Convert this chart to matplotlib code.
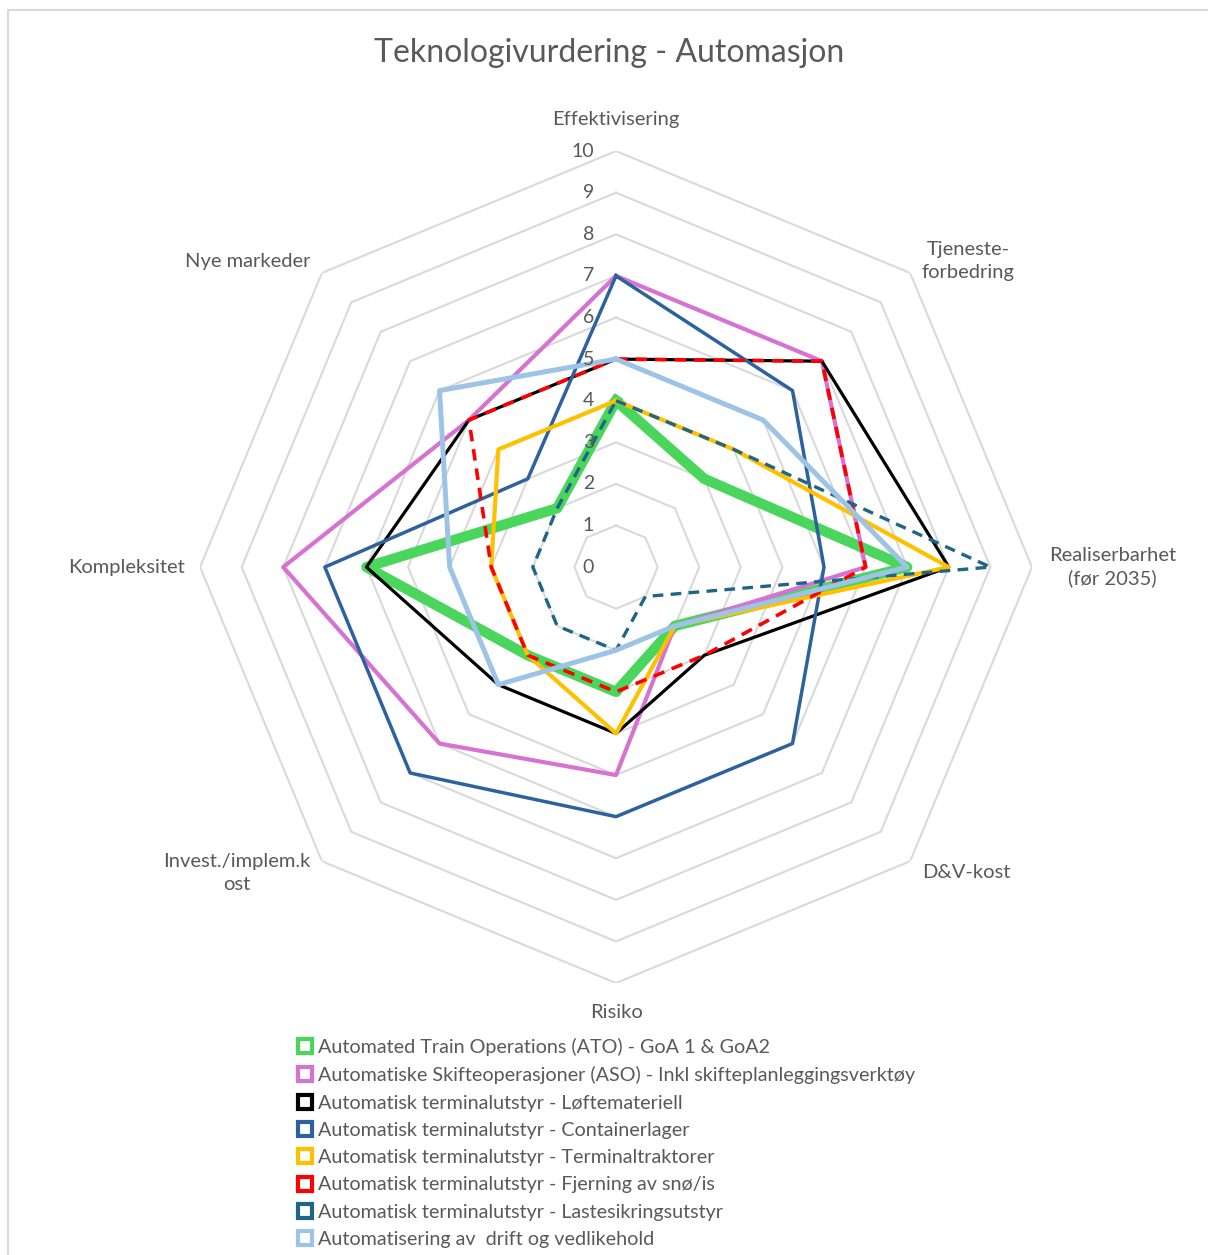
import numpy as np
import matplotlib
matplotlib.use('Agg')
import matplotlib.pyplot as plt
from matplotlib.lines import Line2D
from matplotlib.patches import Rectangle

plt.rcParams['font.family'] = ['Lato', 'DejaVu Sans']

categories = ['Effektivisering', 'Tjeneste-\nforbedring', 'Realiserbarhet\n(før 2035)', 'D&V-kost',
              'Risiko', 'Invest./implem.k\nost', 'Kompleksitet', 'Nye markeder']

ato = [4, 3, 7, 2, 3, 3, 6, 2]
aso = [7, 7, 6, 2, 5, 6, 8, 5]
loftemateriell = [5, 7, 8, 3, 4, 4, 6, 5]
containerlager = [7, 6, 5, 6, 6, 7, 7, 3]
terminaltraktorer = [4, 4, 8, 2, 4, 3, 3, 4]
snoe_is = [5, 7, 6, 3, 3, 3, 3, 5]
lastesikring = [4, 4, 9, 1, 2, 2, 2, 2]
drift = [5, 5, 7, 2, 2, 4, 4, 6]

names = ['Automated Train Operations (ATO) - GoA 1 & GoA2',
         'Automatiske Skifteoperasjoner (ASO) - Inkl skifteplanleggingsverktøy',
         'Automatisk terminalutstyr - Løftemateriell',
         'Automatisk terminalutstyr - Containerlager',
         'Automatisk terminalutstyr - Terminaltraktorer',
         'Automatisk terminalutstyr - Fjerning av snø/is',
         'Automatisk terminalutstyr - Lastesikringsutstyr',
         'Automatisering av  drift og vedlikehold']

series = [ato, aso, loftemateriell, containerlager, terminaltraktorer, snoe_is, lastesikring, drift]
colors = ['#4AD65C', '#D672D2', '#000000', '#2E629E', '#FFC000', '#FF0000', '#1F6585', '#9DC3E6']
widths = [7.5, 3.0, 2.3, 2.5, 3.0, 2.6, 2.4, 3.6]
dashed = [False, False, False, False, False, True, True, False]

TXT = '#595959'
GRID = '#D9D9D9'

fig = plt.figure(figsize=(12.08, 12.55), dpi=100)
fig.patches.append(Rectangle((8 / 1208, -0.1), 1.2, 1.1 - 10 / 1255, transform=fig.transFigure,
                             fill=False, edgecolor=GRID, lw=1.5))

ax = fig.add_axes([0.1656, 0.2167, 0.6887, 0.6629], projection='polar')
ax.set_theta_offset(np.pi / 2)
ax.set_theta_direction(-1)
ax.set_ylim(0, 10)
ax.grid(False)
ax.spines['polar'].set_visible(False)
ax.set_xticks([])
ax.set_yticks([])
ax.patch.set_visible(False)

n = len(categories)
angles = np.linspace(0, 2 * np.pi, n, endpoint=False)
ang_c = np.append(angles, angles[0])

for lvl in range(1, 11):
    ax.plot(ang_c, [lvl] * (n + 1), color=GRID, lw=1.5, zorder=0)

for lvl in range(0, 11):
    ax.annotate(str(lvl), xy=(0, lvl), xytext=(-22, 0), textcoords='offset pixels',
                ha='right', va='center', color=TXT, fontsize=14)

# category labels
label_pos = [(10.55, 'center', 'bottom'), (10.4, 'left', 'center'), (10.4, 'left', 'center'),
             (10.4, 'left', 'center'), (10.5, 'center', 'top'), (10.4, 'right', 'center'),
             (10.37, 'right', 'center'), (10.4, 'right', 'center')]
for a, lab, (r, ha, va) in zip(angles, categories, label_pos):
    ax.text(a, r, lab, ha=ha, va=va, multialignment='center', color=TXT, fontsize=14.5,
            linespacing=1.4)

for vals, c, w, d in zip(series, colors, widths, dashed):
    v = vals + vals[:1]
    if d:
        ax.plot(ang_c, v, color=c, lw=w, dashes=(3.2, 2.2), solid_joinstyle='round')
    else:
        ax.plot(ang_c, v, color=c, lw=w, solid_joinstyle='round')

fig.text(0.5045, 1 - 53 / 1255, 'Teknologivurdering - Automasjon', ha='center', va='center',
         color=TXT, fontsize=23)

handles = [Line2D([], [], ls='none', marker='s', markersize=10, markerfacecolor='white',
                  markeredgecolor=c, markeredgewidth=3) for c in colors]
fig.legend(handles, names, loc='upper left', bbox_to_anchor=(297 / 1208, 1 - 1038 / 1255),
           frameon=False, fontsize=14.2, labelcolor=TXT, handlelength=0.8, handletextpad=0.25,
           labelspacing=0.52, borderaxespad=0, borderpad=0)

fig.savefig('out.png', dpi=100)
